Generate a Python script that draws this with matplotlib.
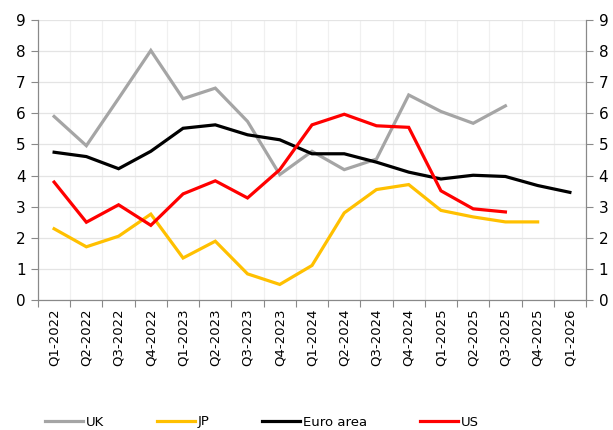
import numpy as np
import matplotlib
matplotlib.use("Agg")
import matplotlib.pyplot as plt

quarters = ["Q1-2022", "Q2-2022", "Q3-2022", "Q4-2022",
            "Q1-2023", "Q2-2023", "Q3-2023", "Q4-2023",
            "Q1-2024", "Q2-2024", "Q3-2024", "Q4-2024",
            "Q1-2025", "Q2-2025", "Q3-2025", "Q4-2025", "Q1-2026"]

uk = [5.90, 4.96, 6.48, 8.02, 6.47, 6.81, 5.74, 4.03,
      4.78, 4.19, 4.53, 6.59, 6.06, 5.68, 6.24]
jp = [2.29, 1.71, 2.05, 2.76, 1.35, 1.89, 0.84, 0.50,
      1.11, 2.80, 3.55, 3.71, 2.88, 2.67, 2.51, 2.51]
euro = [4.75, 4.61, 4.22, 4.78, 5.52, 5.63, 5.31, 5.15,
        4.70, 4.70, 4.43, 4.11, 3.89, 4.01, 3.97, 3.68, 3.46]
us = [3.79, 2.50, 3.06, 2.40, 3.41, 3.83, 3.28, 4.19,
      5.63, 5.97, 5.60, 5.55, 3.51, 2.93, 2.83]

series = [("UK", uk, "#A5A5A5"), ("JP", jp, "#FFC000"),
          ("Euro area", euro, "#000000"), ("US", us, "#FF0000")]

spine_col = "#898989"
fig = plt.figure(figsize=(6.13, 4.30), dpi=100)
ax = fig.add_axes([38 / 613, 130 / 430, 548 / 613, 280 / 430])

for name, vals, col in series:
    ax.plot(np.arange(len(vals)), vals, color=col, lw=2.3, label=name,
            solid_joinstyle="miter", zorder=3)

n = len(quarters)
ax.set_xlim(-0.5, n - 0.5)
ax.set_ylim(0, 9)
ax.set_yticks(range(10))
ax.set_xticks(np.arange(n + 1) - 0.5)
ax.set_xticklabels([])
ax.set_xticks(np.arange(n), minor=True)
ax.set_xticklabels(quarters, minor=True, rotation=90, fontsize=9.5)
ax.tick_params(axis="x", which="minor", length=0, pad=6)
ax.tick_params(axis="x", which="major", length=5, color=spine_col)
ax.tick_params(axis="y", length=5, color=spine_col, labelsize=11, pad=4)
ax.grid(axis="y", color="#E4E4E4", lw=0.9, zorder=0)
ax.grid(axis="x", which="major", color="#F0F0F0", lw=0.9, zorder=0)
for s in ["top"]:
    ax.spines[s].set_visible(False)
for s in ["left", "right", "bottom"]:
    ax.spines[s].set_color(spine_col)

ax2 = ax.twinx()
ax2.set_ylim(0, 9)
ax2.set_yticks(range(10))
ax2.tick_params(axis="y", length=5, color=spine_col, labelsize=11, pad=4)
ax2.spines["top"].set_visible(False)
for s in ["left", "right", "bottom"]:
    ax2.spines[s].set_color(spine_col)

handles, labels = ax.get_legend_handles_labels()
fig.legend(handles, labels, ncol=4, loc="center left",
           bbox_to_anchor=(38 / 613, 8 / 430), frameon=False,
           handlelength=2.9, handletextpad=0.2, columnspacing=4.0,
           fontsize=9.5, borderpad=0)

fig.savefig("out.png", dpi=100)
